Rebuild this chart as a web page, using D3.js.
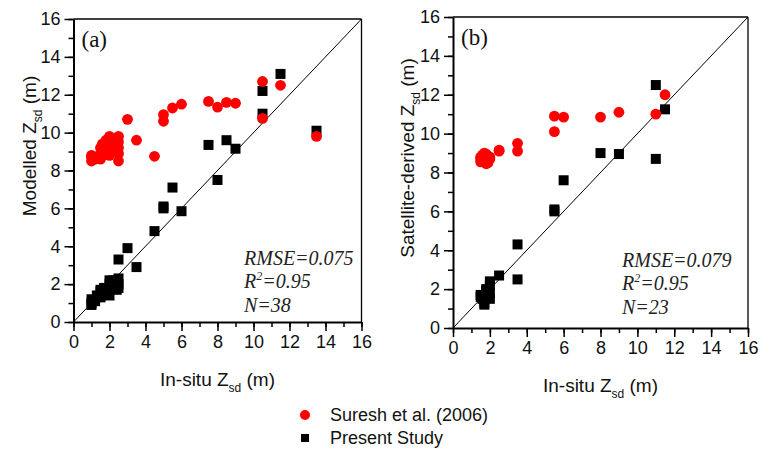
<!DOCTYPE html>
<html lang="en">
<head>
    <meta charset="UTF-8">
    <title>Zsd validation</title>
    <script src="https://d3js.org/d3.v7.min.js"></script>
    <style>
        body { margin: 0; background: #ffffff; }
        svg { display: block; }
        .tick text { font-family: 'Liberation Sans', Arial, sans-serif; font-size: 18px; fill: #111; }
        .axis path, .axis line { stroke: #000; }
        .title { font-family: 'Liberation Sans', Arial, sans-serif; font-size: 19px; fill: #111; }
        .stats { font-family: 'Liberation Serif', 'Times New Roman', serif; font-style: italic; font-size: 20px; fill: #222; }
        .panel-label { font-family: 'Liberation Serif', 'Times New Roman', serif; font-size: 23px; fill: #111; }
        .legend text { font-family: 'Liberation Sans', Arial, sans-serif; font-size: 18px; fill: #111; }
    </style>
</head>
<body>
<svg width="770" height="451"></svg>
<script>
    // panel (a): modelled vs in-situ
    const aPresent = [
        [1.0, 1.0], [1.0, 1.2], [1.0, 0.9], [1.2, 1.1], [1.3, 1.4], [1.5, 1.3], [1.5, 1.6], [1.5, 1.7],
        [1.7, 1.5], [1.7, 1.8], [1.8, 1.6], [2.0, 1.4], [2.0, 1.7], [2.0, 2.0], [2.0, 2.2], [2.2, 1.9],
        [2.2, 2.2], [2.3, 2.1], [2.4, 1.7], [2.5, 1.8], [2.5, 2.0], [2.5, 2.3], [2.5, 3.3], [3.0, 3.9],
        [3.5, 2.9], [4.5, 4.8], [5.0, 6.0], [5.0, 6.1], [5.5, 7.1], [6.0, 5.85], [7.5, 9.35], [8.0, 7.5],
        [8.5, 9.6], [9.0, 9.15], [10.5, 12.2], [10.5, 11.0], [11.5, 13.1], [13.5, 10.1]
    ];
    const aSuresh = [
        [1.0, 8.5], [1.0, 8.7], [1.0, 8.8], [1.2, 8.6], [1.3, 8.7], [1.5, 8.6], [1.5, 8.9], [1.5, 9.2],
        [1.6, 9.4], [1.7, 9.3], [1.7, 8.9], [1.8, 9.6], [2.0, 9.8], [2.0, 9.5], [2.0, 9.1], [2.0, 8.8],
        [2.2, 9.5], [2.3, 9.0], [2.5, 9.8], [2.5, 9.5], [2.5, 9.2], [2.5, 8.9], [2.5, 8.5], [3.0, 10.7],
        [3.5, 9.6], [4.5, 8.75], [5.0, 10.95], [5.0, 10.6], [5.5, 11.3], [6.0, 11.5], [7.5, 11.65],
        [8.0, 11.35], [8.5, 11.6], [9.0, 11.55], [10.5, 12.7], [10.5, 10.75], [11.5, 12.5], [13.5, 9.8]
    ];

    // panel (b): satellite-derived vs in-situ
    const bPresent = [
        [1.5, 1.6], [1.5, 1.7], [1.6, 1.5], [1.7, 1.3], [1.7, 1.2], [1.8, 1.9], [1.8, 2.0], [1.9, 1.6],
        [2.0, 1.5], [2.0, 1.8], [2.0, 2.2], [2.0, 2.4], [2.5, 2.7], [3.5, 4.3], [3.5, 2.5], [5.5, 6.1],
        [5.5, 6.0], [6.0, 7.6], [8.0, 9.0], [9.0, 8.95], [11.0, 8.7], [11.0, 12.5], [11.5, 11.25]
    ];
    const bSuresh = [
        [1.5, 8.55], [1.5, 8.7], [1.5, 8.8], [1.6, 8.9], [1.6, 8.6], [1.7, 9.0], [1.8, 8.45], [1.8, 8.6],
        [1.8, 8.95], [1.9, 8.5], [2.0, 8.7], [2.0, 8.8], [2.5, 9.1], [2.5, 9.15], [3.5, 9.5], [3.5, 9.1],
        [5.5, 10.1], [5.5, 10.9], [6.0, 10.85], [8.0, 10.85], [9.0, 11.1], [11.0, 11.0], [11.5, 12.0]
    ];

    const tickValues = d3.range(0, 17, 2);
    const minorValues = d3.range(0, 17, 1);

    const svg = d3.select("svg");

    function drawPanel(p) {
        const x = d3.scaleLinear().domain([0, 16]).range([p.x0, p.x1]);
        const y = d3.scaleLinear().domain([0, 16]).range([p.y0, p.y1]);
        const g = svg.append("g");

        // frame (top + right thinner)
        g.append("line").attr("x1", p.x0).attr("x2", p.x1).attr("y1", p.y1).attr("y2", p.y1)
            .attr("stroke", "#000").attr("stroke-width", 1.3);
        g.append("line").attr("x1", p.x1).attr("x2", p.x1).attr("y1", p.y0).attr("y2", p.y1)
            .attr("stroke", "#000").attr("stroke-width", 1.3);

        // minor ticks
        g.append("g").attr("class", "axis").attr("transform", `translate(0,${p.y0})`)
            .call(d3.axisBottom(x).tickValues(minorValues).tickSize(5).tickFormat(""))
            .call(s => s.select(".domain").remove())
            .selectAll("line").attr("stroke-width", 1.5);
        g.append("g").attr("class", "axis").attr("transform", `translate(${p.x0},0)`)
            .call(d3.axisLeft(y).tickValues(minorValues).tickSize(5).tickFormat(""))
            .call(s => s.select(".domain").remove())
            .selectAll("line").attr("stroke-width", 1.5);

        // major ticks + labels
        const xa = g.append("g").attr("class", "axis").attr("transform", `translate(0,${p.y0})`)
            .call(d3.axisBottom(x).tickValues(tickValues).tickSize(9).tickSizeOuter(0).tickPadding(4));
        xa.select(".domain").attr("stroke-width", 2);
        xa.selectAll(".tick line").attr("stroke-width", 1.5);
        const ya = g.append("g").attr("class", "axis").attr("transform", `translate(${p.x0},0)`)
            .call(d3.axisLeft(y).tickValues(tickValues).tickSize(9).tickSizeOuter(0).tickPadding(4));
        ya.select(".domain").attr("stroke-width", 2);
        ya.selectAll(".tick line").attr("stroke-width", 1.5);

        // 1:1 line
        g.append("line")
            .attr("x1", x(0)).attr("y1", y(0)).attr("x2", x(16)).attr("y2", y(16))
            .attr("stroke", "#000").attr("stroke-width", 1);

        g.selectAll(".sq").data(p.present).enter().append("rect")
            .attr("x", d => x(d[0]) - 5).attr("y", d => y(d[1]) - 5)
            .attr("width", 10).attr("height", 10).attr("fill", "#000");
        g.selectAll(".dot").data(p.suresh).enter().append("circle")
            .attr("cx", d => x(d[0])).attr("cy", d => y(d[1])).attr("r", 5.4)
            .attr("fill", "#ff0000");

        g.append("text").attr("class", "panel-label")
            .attr("x", p.x0 + 8).attr("y", p.y1 + 28).text(p.label);

        const stats = g.append("text").attr("class", "stats").attr("x", p.statX);
        stats.append("tspan").attr("x", p.statX).attr("y", p.statY).text(p.rmse);
        const r2 = stats.append("tspan").attr("x", p.statX).attr("y", p.statY + 23);
        r2.append("tspan").text("R");
        r2.append("tspan").attr("font-size", 12).attr("dy", -8).text("2");
        r2.append("tspan").attr("dy", 8).text("=0.95");
        stats.append("tspan").attr("x", p.statX).attr("y", p.statY + 47).text(p.n);

        // x title
        const xt = g.append("text").attr("class", "title")
            .attr("x", (p.x0 + p.x1) / 2).attr("y", p.y0 + 64).attr("text-anchor", "middle");
        xt.append("tspan").text("In-situ Z");
        xt.append("tspan").attr("font-size", 12).attr("dy", 6).text("sd");
        xt.append("tspan").attr("dy", -6).text(" (m)");

        // y title
        const yt = g.append("text").attr("class", "title")
            .attr("transform", `translate(${p.yTitleX},${p.yTitleY}) rotate(-90)`)
            .attr("text-anchor", "middle");
        yt.append("tspan").text(p.yTitle);
        yt.append("tspan").attr("font-size", 12).attr("dy", 6).text("sd");
        yt.append("tspan").attr("dy", -6).text(" (m)");
    }

    drawPanel({
        x0: 73.5, x1: 361.5, y0: 322, y1: 19, present: aPresent, suresh: aSuresh,
        label: "(a)", statX: 244, statY: 265, rmse: "RMSE=0.075", n: "N=38",
        yTitle: "Modelled Z", yTitleX: 36, yTitleY: 146
    });
    drawPanel({
        x0: 453, x1: 748, y0: 328, y1: 17, present: bPresent, suresh: bSuresh,
        label: "(b)", statX: 622, statY: 267, rmse: "RMSE=0.079", n: "N=23",
        yTitle: "Satellite-derived Z", yTitleX: 414, yTitleY: 158
    });

    // legend
    const legend = svg.append("g").attr("class", "legend");
    legend.append("circle").attr("cx", 305).attr("cy", 415).attr("r", 5).attr("fill", "#ff0000");
    legend.append("text").attr("x", 330).attr("y", 421).text("Suresh et al. (2006)");
    legend.append("rect").attr("x", 301).attr("y", 434).attr("width", 8).attr("height", 8).attr("fill", "#000");
    legend.append("text").attr("x", 330).attr("y", 444).text("Present Study");
</script>
</body>
</html>
